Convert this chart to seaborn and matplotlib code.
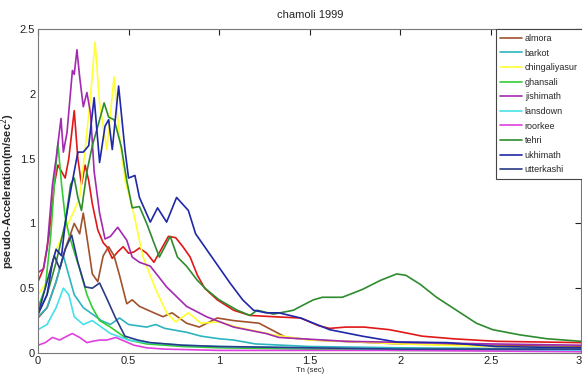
import matplotlib
matplotlib.use("Agg")
import matplotlib.pyplot as plt
import numpy as np
import pandas as pd
import seaborn as sns

# Pseudo-acceleration response spectra, Chamoli earthquake 1999
stations = ["almora", "barkot", "chingaliyasur", "ghansali", "jishimath",
            "lansdown", "roorkee", "tehri", "ukhimath", "utterkashi"]
colors = ["#a0522d", "#2cb5c0", "#ffff33", "#33cc33", "#a22ab0",
          "#48e0e8", "#e040e0", "#2e8b2e", "#1f28a8", "#2a3a86"]

almora_T = [0, 0.05, 0.1, 0.15, 0.2, 0.23, 0.25, 0.28, 0.3, 0.33, 0.36, 0.39, 0.42, 0.45,
            0.49, 0.52, 0.56, 0.64, 0.69, 0.74, 0.82, 0.89, 0.99, 1.08, 1.22, 1.37, 1.52, 2.0, 2.5, 3.0]
almora_Sa = [0.27, 0.35, 0.55, 0.8, 1.0, 0.92, 1.08, 0.8, 0.61, 0.55, 0.75, 0.82, 0.75, 0.6,
             0.38, 0.41, 0.36, 0.31, 0.28, 0.31, 0.23, 0.2, 0.27, 0.25, 0.23, 0.12, 0.1, 0.07, 0.06, 0.05]

barkot_T = [0, 0.05, 0.1, 0.14, 0.17, 0.2, 0.25, 0.3, 0.35, 0.4, 0.45, 0.5, 0.6, 0.65, 0.7,
            0.82, 0.9, 1.0, 1.08, 1.2, 1.5, 2.0, 3.0]
barkot_Sa = [0.28, 0.35, 0.55, 0.75, 0.6, 0.45, 0.35, 0.3, 0.25, 0.22, 0.27, 0.22, 0.2, 0.22, 0.19,
             0.16, 0.13, 0.11, 0.1, 0.07, 0.05, 0.04, 0.03]

chingaliyasur_T = [0, 0.05, 0.1, 0.15, 0.2, 0.23, 0.26, 0.29, 0.315, 0.34, 0.38, 0.42, 0.45, 0.48,
                   0.52, 0.58, 0.65, 0.71, 0.76, 0.83, 0.9, 1.0, 1.1, 1.2, 1.3, 1.4, 1.5, 1.7,
                   2.0, 2.5, 3.0]
chingaliyasur_Sa = [0.45, 0.55, 0.8, 0.95, 1.1, 1.2, 1.57, 1.98, 2.4, 1.93, 1.57, 2.13, 1.67, 1.33,
                    1.13, 0.74, 0.49, 0.31, 0.24, 0.31, 0.23, 0.24, 0.2, 0.17, 0.14, 0.12, 0.1, 0.09,
                    0.07, 0.05, 0.04]

ghansali_T = [0, 0.04, 0.07, 0.09, 0.11, 0.13, 0.15, 0.17, 0.2, 0.23, 0.27, 0.3, 0.34, 0.4,
              0.45, 0.5, 0.6, 0.8, 1.0, 1.5, 2.0, 3.0]
ghansali_Sa = [0.35, 0.5, 0.9, 1.3, 1.62, 1.3, 1.05, 0.92, 0.78, 0.65, 0.45, 0.35, 0.25, 0.2,
               0.15, 0.1, 0.07, 0.05, 0.04, 0.03, 0.02, 0.02]

jishimath_T = [0, 0.03, 0.05, 0.08, 0.1, 0.127, 0.14, 0.16, 0.19, 0.2, 0.215, 0.23, 0.25, 0.27,
               0.29, 0.31, 0.34, 0.37, 0.4, 0.44, 0.49, 0.52, 0.56, 0.62, 0.71, 0.82, 0.93,
               1.08, 1.26, 1.33, 1.7, 2.5, 3.0]
jishimath_Sa = [0.62, 0.65, 0.8, 1.3, 1.5, 1.81, 1.55, 1.7, 2.18, 2.15, 2.34, 2.13, 1.9, 2.01,
                1.85, 1.4, 1.08, 0.88, 0.9, 0.97, 0.87, 0.74, 0.7, 0.67, 0.51, 0.36, 0.28,
                0.2, 0.15, 0.12, 0.09, 0.07, 0.06]

lansdown_T = [0, 0.05, 0.1, 0.14, 0.17, 0.2, 0.25, 0.3, 0.35, 0.4, 0.5, 0.6, 0.8, 1.0, 1.5, 2.0, 3.0]
lansdown_Sa = [0.18, 0.22, 0.35, 0.5, 0.45, 0.28, 0.22, 0.25, 0.2, 0.15, 0.1, 0.08, 0.06, 0.05,
               0.04, 0.03, 0.02]

roorkee_T = [0, 0.04, 0.08, 0.12, 0.16, 0.19, 0.23, 0.27, 0.3, 0.34, 0.38, 0.43, 0.48, 0.53,
             0.6, 0.7, 1.0, 1.5, 2.0, 3.0]
roorkee_Sa = [0.06, 0.08, 0.12, 0.1, 0.13, 0.15, 0.12, 0.08, 0.09, 0.1, 0.1, 0.12, 0.09, 0.06,
              0.04, 0.03, 0.02, 0.02, 0.02, 0.01]

tehri_T = [0, 0.05, 0.1, 0.15, 0.18, 0.2, 0.22, 0.24, 0.27, 0.3, 0.32, 0.35, 0.365, 0.39, 0.42,
           0.43, 0.46, 0.49, 0.52, 0.56, 0.6, 0.64, 0.67, 0.7, 0.73, 0.77, 0.82, 0.88, 0.93, 1.0,
           1.1, 1.17, 1.21, 1.3, 1.41, 1.45, 1.52, 1.57, 1.68, 1.79, 1.89, 1.98, 2.03, 2.11,
           2.2, 2.31, 2.42, 2.51, 2.66, 2.81, 3.0]
tehri_Sa = [0.3, 0.45, 0.7, 1.0, 1.3, 1.35, 1.2, 1.1, 1.4, 1.6, 1.7, 1.85, 1.93, 1.82, 1.8,
            1.75, 1.59, 1.33, 1.12, 1.13, 1.0, 0.85, 0.74, 0.82, 0.9, 0.74, 0.67, 0.56, 0.49, 0.41,
            0.33, 0.29, 0.33, 0.3, 0.33, 0.36, 0.41, 0.43, 0.43, 0.49, 0.56, 0.61, 0.6, 0.53,
            0.43, 0.33, 0.23, 0.18, 0.14, 0.11, 0.09]

ukhimath_T = [0, 0.05, 0.08, 0.1, 0.13, 0.15, 0.18, 0.2, 0.22, 0.25, 0.28, 0.31, 0.34, 0.37,
              0.39, 0.41, 0.445, 0.48, 0.5, 0.535, 0.56, 0.62, 0.66, 0.71, 0.765, 0.83, 0.87,
              0.97, 1.06, 1.13, 1.19, 1.26, 1.33, 1.45, 1.61, 1.79, 1.98, 2.26, 2.53, 3.0]
ukhimath_Sa = [0.3, 0.45, 0.7, 0.8, 0.75, 1.0, 1.25, 1.4, 1.55, 1.55, 1.6, 1.97, 1.47, 1.75,
               1.8, 1.57, 2.06, 1.57, 1.35, 1.37, 1.2, 1.01, 1.12, 1.01, 1.2, 1.1, 0.92,
               0.72, 0.54, 0.41, 0.33, 0.31, 0.31, 0.27, 0.18, 0.13, 0.085, 0.08, 0.05, 0.04]

utterkashi_T = [0, 0.03, 0.06, 0.09, 0.12, 0.15, 0.186, 0.22, 0.26, 0.3, 0.34, 0.38, 0.425,
                0.48, 0.55, 0.62, 0.8, 1.0, 1.5, 2.0, 3.0]
utterkashi_Sa = [0.3, 0.45, 0.6, 0.75, 0.65, 0.8, 0.91, 0.7, 0.51, 0.5, 0.54, 0.42, 0.28,
                 0.13, 0.1, 0.08, 0.06, 0.05, 0.04, 0.03, 0.03]

# additional record plotted without a legend entry
extra_T = [0, 0.03, 0.06, 0.09, 0.11, 0.13, 0.15, 0.17, 0.2, 0.22, 0.24, 0.26, 0.28, 0.3, 0.33,
           0.36, 0.38, 0.41, 0.44, 0.47, 0.5, 0.53, 0.56, 0.6, 0.64, 0.68, 0.72, 0.76, 0.8,
           0.84, 0.88, 0.92, 0.99, 1.08, 1.17, 1.3, 1.45, 1.55, 1.61, 1.7, 1.8, 1.94, 2.05,
           2.12, 2.29, 2.53, 3.0]
extra_Sa = [0.55, 0.65, 0.9, 1.3, 1.45, 1.4, 1.35, 1.5, 1.87, 1.5, 1.3, 1.45, 1.33, 1.15, 0.95,
            0.85, 0.82, 0.73, 0.78, 0.82, 0.77, 0.78, 0.81, 0.77, 0.7, 0.8, 0.9, 0.89, 0.82,
            0.74, 0.6, 0.5, 0.41, 0.33, 0.29, 0.28, 0.27, 0.21, 0.19, 0.2, 0.2, 0.18, 0.15,
            0.13, 0.11, 0.09, 0.08]

series = {
    "almora": (almora_T, almora_Sa),
    "barkot": (barkot_T, barkot_Sa),
    "chingaliyasur": (chingaliyasur_T, chingaliyasur_Sa),
    "ghansali": (ghansali_T, ghansali_Sa),
    "jishimath": (jishimath_T, jishimath_Sa),
    "lansdown": (lansdown_T, lansdown_Sa),
    "roorkee": (roorkee_T, roorkee_Sa),
    "tehri": (tehri_T, tehri_Sa),
    "ukhimath": (ukhimath_T, ukhimath_Sa),
    "utterkashi": (utterkashi_T, utterkashi_Sa),
}

frames = []
for name in stations:
    t, sa = series[name]
    frames.append(pd.DataFrame({"Tn": t, "Sa": sa, "station": name}))
df = pd.concat(frames, ignore_index=True)
extra_df = pd.DataFrame({"Tn": extra_T, "Sa": extra_Sa})

sns.set_style("white")
plt.rcParams["font.family"] = ["Liberation Sans", "DejaVu Sans"]

fig = plt.figure(figsize=(5.82, 3.78), dpi=100)
ax = fig.add_axes([38 / 582, 1 - 353 / 378, 1 - 38 / 582 - 0.001, (353 - 29) / 378])

sns.lineplot(data=extra_df, x="Tn", y="Sa", color="#e01818", lw=1.2,
             sort=False, estimator=None, legend=False, ax=ax)
sns.lineplot(data=df, x="Tn", y="Sa", hue="station", hue_order=stations,
             palette=dict(zip(stations, colors)), lw=1.2, sort=False,
             estimator=None, ax=ax)

ax.set_xlim(0, 3)
ax.set_ylim(0, 2.5)
ax.set_xticks([0, 0.5, 1, 1.5, 2, 2.5, 3])
ax.set_xticklabels(["0", "0.5", "1", "1.5", "2", "2.5", "3"])
ax.set_yticks([0, 0.5, 1, 1.5, 2, 2.5])
ax.set_yticklabels(["0", "0.5", "1", "1.5", "2", "2.5"])
ax.tick_params(direction="in", top=True, right=True, length=4, width=0.8,
               labelsize=8, pad=2, colors="#222222")
# last x tick label sits at the figure's right edge
ax.get_xticklabels()[-1].set_horizontalalignment("right")
for sp in ax.spines.values():
    sp.set_color("#777777")
    sp.set_linewidth(0.8)

ax.set_title("chamoli 1999", fontsize=8, pad=8)
ax.set_xlabel("Tn (sec)", fontsize=5.5, labelpad=1)
ax.set_ylabel("pseudo-Acceleration(m/sec$^2$)", fontsize=8, fontweight="bold", labelpad=2)

leg = ax.legend(loc="upper left", bbox_to_anchor=((496 - 38) / 544, 1.0), fontsize=6.5,
                frameon=True, fancybox=False, edgecolor="#444444", framealpha=1,
                handlelength=2.4, handletextpad=0.3, labelspacing=0.62,
                borderpad=0.55, borderaxespad=0)
leg.get_frame().set_linewidth(0.8)

fig.savefig("out.png", dpi=100)
